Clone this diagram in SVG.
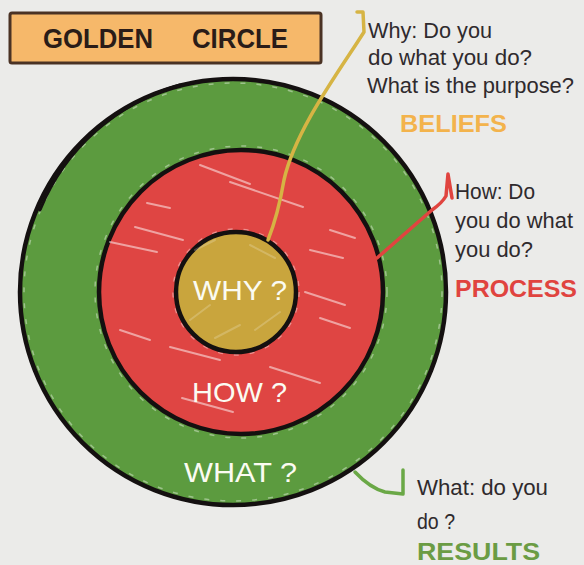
<svg xmlns="http://www.w3.org/2000/svg" width="584" height="565" viewBox="0 0 584 565">
<style>
.note{font-family:"Liberation Sans","DejaVu Sans",sans-serif;font-size:22px;fill:#2f2a2d}
.key{font-family:"Liberation Sans","DejaVu Sans",sans-serif;font-size:24px;font-weight:bold}
.lbl{font-family:"Liberation Sans","DejaVu Sans",sans-serif;font-size:28px;fill:#fbfbf2}
.ring{stroke:#141010;stroke-width:4.5}
.rim{fill:none;stroke:#ffffff;stroke-opacity:0.4;stroke-width:1.5;stroke-dasharray:5 11}
.streak{stroke:#ffffff;stroke-opacity:0.5;stroke-width:2;stroke-linecap:round}
.hatch{stroke:#ffffff;stroke-opacity:0.2;stroke-width:2;stroke-linecap:round}
.conn{fill:none;stroke-width:3.5;stroke-linecap:round;stroke-linejoin:round}
</style>
<rect x="0" y="0" width="584" height="565" fill="#ebebe9"/>

<g id="title">
  <rect x="10" y="13" width="311" height="50" rx="2" fill="#f6b86a" stroke="#4a3224" stroke-width="3"/>
  <text x="43" y="48" font-family="Liberation Sans, DejaVu Sans, sans-serif" font-size="28" font-weight="bold" fill="#2a1c18" textLength="110" lengthAdjust="spacingAndGlyphs">GOLDEN</text>
  <text x="192" y="48" font-family="Liberation Sans, DejaVu Sans, sans-serif" font-size="28" font-weight="bold" fill="#2a1c18" textLength="96" lengthAdjust="spacingAndGlyphs">CIRCLE</text>
</g>

<g id="node-what">
  <circle cx="233" cy="292" r="213" fill="#5c9b3f" class="ring"/>
  <circle cx="233" cy="292" r="209" class="rim"/>
  <path d="M 40 210 A 213 213 0 0 1 180 85" fill="none" stroke="#141010" stroke-width="3" stroke-linecap="round"/>
  <text class="lbl" x="184" y="482" textLength="113" lengthAdjust="spacingAndGlyphs">WHAT ?</text>
</g>

<g id="node-how">
  <circle cx="241" cy="292" r="146" class="rim"/>
  <circle cx="241" cy="292" r="142" fill="#df4543" class="ring"/>
  <line class="streak" x1="147" y1="203" x2="170" y2="208"/>
  <line class="streak" x1="135" y1="227" x2="183" y2="240"/>
  <line class="streak" x1="110" y1="242" x2="157" y2="252"/>
  <line class="streak" x1="200" y1="165" x2="250" y2="184"/>
  <line class="streak" x1="230" y1="182" x2="303" y2="207"/>
  <line class="streak" x1="310" y1="250" x2="343" y2="258"/>
  <line class="streak" x1="305" y1="292" x2="345" y2="305"/>
  <line class="streak" x1="320" y1="318" x2="350" y2="328"/>
  <line class="streak" x1="170" y1="347" x2="220" y2="360"/>
  <line class="streak" x1="270" y1="367" x2="320" y2="383"/>
  <line class="streak" x1="182" y1="398" x2="233" y2="412"/>
  <line class="streak" x1="120" y1="330" x2="150" y2="340"/>
  <line class="streak" x1="330" y1="230" x2="355" y2="238"/>
  <text class="lbl" x="192" y="402" textLength="95" lengthAdjust="spacingAndGlyphs">HOW ?</text>
</g>

<g id="node-why">
  <circle cx="236" cy="292" r="63" class="rim"/>
  <circle cx="236" cy="292" r="60" fill="#c9a53d" class="ring"/>
  <line class="hatch" x1="195" y1="250" x2="215" y2="240"/>
  <line class="hatch" x1="250" y1="245" x2="275" y2="258"/>
  <line class="hatch" x1="190" y1="320" x2="210" y2="305"/>
  <line class="hatch" x1="255" y1="330" x2="280" y2="312"/>
  <line class="hatch" x1="215" y1="338" x2="240" y2="325"/>
  <text class="lbl" x="193" y="300" textLength="94" lengthAdjust="spacingAndGlyphs">WHY ?</text>
</g>

<g id="connectors">
  <path class="conn" stroke="#d6b444" d="M 357 12 L 363 12 L 364 32 C 340 70 295 130 284 180 Q 278 215 268 240"/>
  <path class="conn" stroke="#e0443f" d="M 377 258 L 432 210 Q 442 203 446 196 L 448 174 L 452 198"/>
  <path class="conn" stroke="#6aa846" d="M 355 472 Q 370 488 385 492 L 403 494 L 403 470"/>
</g>

<g id="note-why">
  <text class="note" x="368" y="38" textLength="124" lengthAdjust="spacingAndGlyphs">Why: Do you</text>
  <text class="note" x="368" y="65" textLength="164" lengthAdjust="spacingAndGlyphs">do what you do?</text>
  <text class="note" x="367" y="93" textLength="207" lengthAdjust="spacingAndGlyphs">What is the purpose?</text>
  <text class="key" x="400" y="132" fill="#f3b34c" textLength="107" lengthAdjust="spacingAndGlyphs">BELIEFS</text>
</g>

<g id="note-how">
  <text class="note" x="455" y="199" textLength="80" lengthAdjust="spacingAndGlyphs">How: Do</text>
  <text class="note" x="455" y="228" textLength="118" lengthAdjust="spacingAndGlyphs">you do what</text>
  <text class="note" x="455" y="257" textLength="78" lengthAdjust="spacingAndGlyphs">you do?</text>
  <text class="key" x="455" y="297" fill="#e0443f" textLength="122" lengthAdjust="spacingAndGlyphs">PROCESS</text>
</g>

<g id="note-what">
  <text class="note" x="417" y="495" textLength="131" lengthAdjust="spacingAndGlyphs">What: do you</text>
  <text class="note" x="417" y="529" textLength="38" lengthAdjust="spacingAndGlyphs">do ?</text>
  <text class="key" x="417" y="560" fill="#6b9c44" textLength="123" lengthAdjust="spacingAndGlyphs">RESULTS</text>
</g>
</svg>
